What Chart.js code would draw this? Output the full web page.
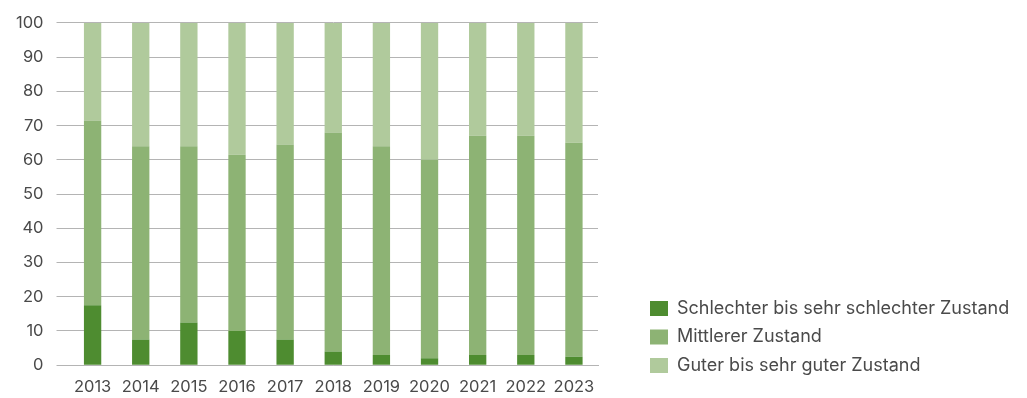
<!DOCTYPE html>
<html lang="de">
<head>
    <meta charset="UTF-8">
    <title>Zustand</title>
    <script src="https://cdn.jsdelivr.net/npm/chart.js"></script>
    <style>
        body { margin: 0; background: #fff; }
        .box { width: 1027px; height: 398px; }
    </style>
</head>
<body>
    <div class="box"><canvas id="myChart"></canvas></div>
<script>
    var years = ['2013', '2014', '2015', '2016', '2017', '2018', '2019', '2020', '2021', '2022', '2023'];
    var schlecht = [17.5, 7.5, 12.5, 10, 7.5, 4, 3, 2, 3, 3, 2.5];
    var mittel = [54, 56.5, 51.5, 51.5, 57, 64, 61, 58, 64, 64, 62.5];
    var gut = [28.5, 36, 36, 38.5, 35.5, 32, 36, 40, 33, 33, 35];
    var seriesNames = ['Schlechter bis sehr schlechter Zustand', 'Mittlerer Zustand', 'Guter bis sehr guter Zustand'];

    var gridColor = '#b4b4b4';
    var textColor = '#4a4a4a';

    // legend sits right, with a gap to the plot area
    var legendGap = {
        id: 'legendGap',
        beforeInit(chart) {
            var fit = chart.legend.fit;
            chart.legend.fit = function () {
                fit.bind(chart.legend)();
                this.width = 429;
            };
        },
        afterLayout(chart) {
            chart.legend.left = 639.5;
            chart.legend.top -= 13;
            chart.legend.bottom -= 13;
        }
    };

    new Chart(document.querySelector('#myChart'), {
        type: 'bar',
        data: {
            labels: years,
            datasets: [
                { label: seriesNames[0], data: schlecht, backgroundColor: '#4e8c30' },
                { label: seriesNames[1], data: mittel, backgroundColor: '#8db374' },
                { label: seriesNames[2], data: gut, backgroundColor: '#b0ca9c' }
            ]
        },
        options: {
            responsive: true,
            maintainAspectRatio: false,
            animation: false,
            barPercentage: 0.36,
            categoryPercentage: 1,
            layout: { padding: { top: 12, left: 3, right: 0, bottom: 0 } },
            scales: {
                x: {
                    stacked: true,
                    grid: { display: false, tickLength: 10 },
                    border: { color: gridColor },
                    ticks: { color: textColor, padding: 1.5, font: { family: 'Inter', size: 16.5 } }
                },
                y: {
                    stacked: true,
                    min: 0,
                    max: 100,
                    border: { display: false },
                    grid: { color: gridColor, tickLength: 12, tickColor: gridColor },
                    ticks: { stepSize: 10, color: textColor, padding: 13, font: { family: 'Inter', size: 16.5 } }
                }
            },
            plugins: {
                legend: {
                    position: 'right',
                    align: 'end',
                    labels: {
                        boxWidth: 18,
                        boxHeight: 15,
                        padding: 10.5,
                        color: textColor,
                        font: { family: 'Inter', size: 18 }
                    }
                },
                tooltip: { enabled: false }
            }
        },
        plugins: [legendGap]
    });
</script>
</body>
</html>
